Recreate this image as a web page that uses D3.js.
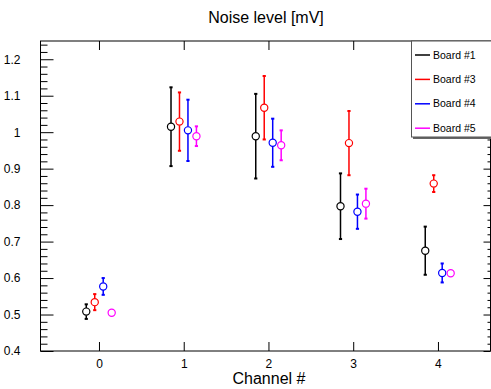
<!DOCTYPE html>
<html>
<head>
<meta charset="utf-8">
<script src="https://cdn.jsdelivr.net/npm/d3@7"></script>
<style>
  body { margin: 0; background: #fff; }
  svg { display: block; font-family: "Liberation Sans", Arial, Helvetica, sans-serif; }
</style>
</head>
<body>
<div id="chart"></div>
<script>
// channel numbers on the x axis
const channels = [0, 1, 2, 3, 4];
const boards = ["Board #1", "Board #3", "Board #4", "Board #5"];
const boardColors = ["#000000", "#ff0000", "#0000ff", "#ff00ff"];
const boardShift = [-0.15, -0.05, 0.05, 0.15];

// noise values [mV] and their errors
const board1 = [0.508, 1.015, 0.989, 0.797, 0.675];
const board1Err = [0.020, 0.108, 0.116, 0.090, 0.066];
const board3 = [0.534, 1.029, 1.067, 0.970, 0.859];
const board3Err = [0.022, 0.080, 0.087, 0.088, 0.023];
const board4 = [0.577, 1.005, 0.971, 0.782, 0.614];
const board4Err = [0.023, 0.084, 0.066, 0.047, 0.026];
const board5 = [0.505, 0.989, 0.964, 0.804, 0.613];
const board5Err = [0.002, 0.027, 0.041, 0.041, 0.003];

const yTicks = [0.4, 0.5, 0.6, 0.7, 0.8, 0.9, 1.0, 1.1, 1.2];
const yTickLabels = ["0.4", "0.5", "0.6", "0.7", "0.8", "0.9", "1", "1.1", "1.2"];

const values = [board1, board3, board4, board5];
const errors = [board1Err, board3Err, board4Err, board5Err];

const width = 491, height = 389;
const fLeft = 40.5, fRight = 490.5, fTop = 41, fBottom = 351;

const svg = d3.select("#chart").append("svg")
  .attr("width", width)
  .attr("height", height);

const x = d3.scaleLinear().domain([-0.69, 4.62]).range([fLeft, fRight]);
const y = d3.scaleLinear().domain([0.4, 1.25]).range([fBottom, fTop]);

// minor ticks every 0.02
const yMinor = d3.range(0, 43).map(i => +(0.4 + i * 0.02).toFixed(2)).filter(v => v <= 1.25);
const yMinorOnly = yMinor.filter(v => !yTicks.some(t => Math.abs(t - v) < 1e-6));

// frame
svg.append("rect")
  .attr("x", fLeft).attr("y", fTop)
  .attr("width", fRight - fLeft).attr("height", fBottom - fTop)
  .attr("fill", "none").attr("stroke", "#000").attr("stroke-width", 1);

// bottom axis
const xAxis = svg.append("g")
  .attr("transform", "translate(0," + fBottom + ")")
  .call(d3.axisBottom(x).tickValues(channels).tickFormat(d3.format("d")).tickSizeInner(-9).tickSizeOuter(0).tickPadding(6));
xAxis.select(".domain").remove();
xAxis.selectAll("text").attr("font-size", 12).attr("fill", "#000").attr("dy", "0.95em")
  .attr("font-family", "Liberation Sans, Arial, sans-serif");

// top axis
const xTop = svg.append("g")
  .attr("transform", "translate(0," + fTop + ")")
  .call(d3.axisTop(x).tickValues(channels).tickFormat("").tickSizeInner(-9).tickSizeOuter(0));
xTop.select(".domain").remove();

// left axis, major + minor
const yAxis = svg.append("g")
  .attr("transform", "translate(" + fLeft + ",0)")
  .call(d3.axisLeft(y).tickValues(yTicks).tickFormat((d, i) => yTickLabels[i]).tickSizeInner(-13).tickSizeOuter(0).tickPadding(20));
yAxis.select(".domain").remove();
yAxis.selectAll("text").attr("font-size", 12).attr("fill", "#000")
  .attr("font-family", "Liberation Sans, Arial, sans-serif");

const yMinorAxis = svg.append("g")
  .attr("transform", "translate(" + fLeft + ",0)")
  .call(d3.axisLeft(y).tickValues(yMinorOnly).tickFormat("").tickSizeInner(-7).tickSizeOuter(0));
yMinorAxis.select(".domain").remove();

// right axis
const yRight = svg.append("g")
  .attr("transform", "translate(" + fRight + ",0)")
  .call(d3.axisRight(y).tickValues(yTicks).tickFormat("").tickSizeInner(-7).tickSizeOuter(0));
yRight.select(".domain").remove();
const yRightMinor = svg.append("g")
  .attr("transform", "translate(" + fRight + ",0)")
  .call(d3.axisRight(y).tickValues(yMinorOnly).tickFormat("").tickSizeInner(-3).tickSizeOuter(0));
yRightMinor.select(".domain").remove();

svg.selectAll(".tick line").attr("stroke", "#000").attr("stroke-width", 1);

// data
const r = 3.6;
boards.forEach((name, b) => {
  const g = svg.append("g");
  const color = boardColors[b];
  channels.forEach((c, i) => {
    const cx = x(c + boardShift[b]);
    const cy = y(values[b][i]);
    const yHi = y(values[b][i] + errors[b][i]);
    const yLo = y(values[b][i] - errors[b][i]);
    if (cy - yHi > r) {
      g.append("line").attr("x1", cx).attr("x2", cx).attr("y1", yHi).attr("y2", cy - r)
        .attr("stroke", color).attr("stroke-width", 1.5);
      g.append("line").attr("x1", cx - 1.6).attr("x2", cx + 1.6).attr("y1", yHi).attr("y2", yHi)
        .attr("stroke", color).attr("stroke-width", 2);
    }
    if (yLo - cy > r) {
      g.append("line").attr("x1", cx).attr("x2", cx).attr("y1", cy + r).attr("y2", yLo)
        .attr("stroke", color).attr("stroke-width", 1.5);
      g.append("line").attr("x1", cx - 1.6).attr("x2", cx + 1.6).attr("y1", yLo).attr("y2", yLo)
        .attr("stroke", color).attr("stroke-width", 2);
    }
    g.append("circle").attr("cx", cx).attr("cy", cy).attr("r", r)
      .attr("fill", "#fff").attr("stroke", color).attr("stroke-width", 1.2);
  });
});

// legend
const leg = svg.append("g");
leg.append("rect").attr("x", 413).attr("y", fTop + 1).attr("width", 90).attr("height", 97)
  .attr("fill", "#666");
leg.append("rect").attr("x", 411.5).attr("y", fTop).attr("width", 90).attr("height", 96)
  .attr("fill", "#fff").attr("stroke", "#555").attr("stroke-width", 1);
boards.forEach((name, b) => {
  const ly = 55 + b * 24.4;
  leg.append("line").attr("x1", 415).attr("x2", 430).attr("y1", ly).attr("y2", ly)
    .attr("stroke", boardColors[b]).attr("stroke-width", 1.5);
  leg.append("text").attr("x", 433).attr("y", ly).attr("dy", "0.35em")
    .attr("font-size", 10.5).attr("fill", "#000").text(name);
});

// titles
svg.append("text").attr("x", 266).attr("y", 23).attr("text-anchor", "middle")
  .attr("font-size", 16).attr("fill", "#000").text("Noise level [mV]");
svg.append("text").attr("x", 269).attr("y", 384).attr("text-anchor", "middle")
  .attr("font-size", 16).attr("fill", "#000").text("Channel #");
</script>
</body>
</html>
